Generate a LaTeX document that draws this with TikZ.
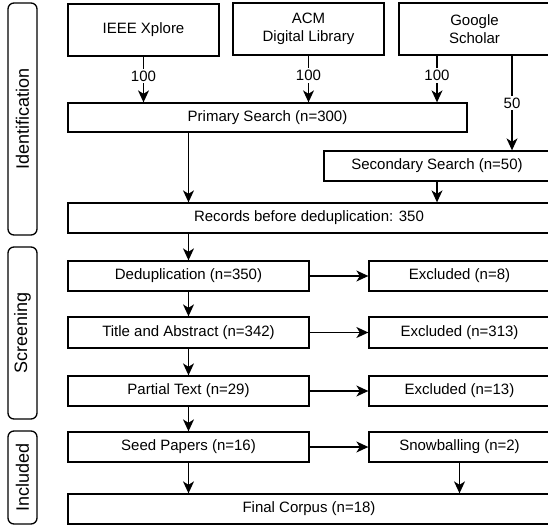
\documentclass[tikz,border=0pt]{standalone}
\usepackage{fontspec}
\setmainfont{Liberation Sans}
\usetikzlibrary{shapes,arrows.meta,positioning}

\begin{document}
\begin{tikzpicture}[x=1pt,y=-1pt,
	box/.style={draw,line width=1.3pt,inner sep=0pt,align=center,font=\fontsize{15}{18}\selectfont},
	phase/.style={draw,line width=1.3pt,rounded corners=6pt,rotate=90,inner sep=0pt,minimum height=29,font=\fontsize{18}{21}\selectfont},
	flow/.style={-{Stealth[length=12pt,width=11pt,inset=3.5pt]},line width=1.3pt},
	count/.style={fill=white,inner sep=2pt,font=\fontsize{15}{18}\selectfont}]
	\useasboundingbox (0,0) rectangle (548,527);
	\clip (0,0) rectangle (548,527);

	\node[phase,minimum width=232] (ident) at (22.5,119) {Identification};
	\node[phase,minimum width=172] (screen) at (22.5,333) {Screening};
	\node[phase,minimum width=93] (incl) at (22.5,477.5) {Included};

	\node[box,minimum width=151,minimum height=52] (ieee) at (143.5,30) {IEEE Xplore};
	\node[box,minimum width=151,minimum height=52] (acm) at (308.5,29) {ACM\\Digital Library};
	\node[box,minimum width=151,minimum height=52] (google) at (474.5,29) {Google\\Scholar};

	\node[box,minimum width=399,minimum height=29] (prim) at (267.5,117.5) {Primary Search (n=300)};
	\node[box,minimum width=226,minimum height=30] (sec) at (437,166) {Secondary Search (n=50)};
	\node[box,minimum width=482,minimum height=30] (rec) at (309,218) {Records before deduplication: 350};

	\node[box,minimum width=241,minimum height=30] (dedup) at (188.5,276) {Deduplication (n=350)};
	\node[box,minimum width=241,minimum height=31] (title) at (188.5,332.5) {Title and Abstract (n=342)};
	\node[box,minimum width=241,minimum height=30] (partial) at (188.5,391) {Partial Text (n=29)};
	\node[box,minimum width=241,minimum height=30] (seed) at (188.5,447) {Seed Papers (n=16)};

	\node[box,minimum width=181,minimum height=30] (exc1) at (459.5,276) {Excluded (n=8)};
	\node[box,minimum width=181,minimum height=31] (exc2) at (459.5,332.5) {Excluded (n=313)};
	\node[box,minimum width=181,minimum height=30] (exc3) at (459.5,391) {Excluded (n=13)};
	\node[box,minimum width=181,minimum height=30] (snow) at (459.5,447) {Snowballing (n=2)};

	\node[box,minimum width=482,minimum height=30] (final) at (309,509) {Final Corpus (n=18)};

	\path [flow] (ieee.south) edge node[count,pos=0.42] {100} (ieee.south |- prim.north);
	\path [flow] (acm.south) edge node[count,pos=0.42] {100} (acm.south |- prim.north);
	\path [flow] ([xshift=-37.5]google.south) edge node[count,pos=0.42] {100} ([xshift=-37.5]google.south |- prim.north);
	\path [flow] ([xshift=37.5]google.south) edge node[count] {50} ([xshift=37.5]google.south |- sec.north);

	\path [flow] (dedup.north |- prim.south) edge (dedup.north |- rec.north);
	\path [flow] (sec) edge (sec |- rec.north);
	\path [flow] (dedup |- rec.south) edge (dedup);

	\path [flow] (dedup) edge (title);
	\path [flow] (title) edge (partial);
	\path [flow] (partial) edge (seed);
	\path [flow] (seed) edge (seed |- final.north);

	\path [flow] (dedup) edge (exc1);
	\path [flow] (title) edge (exc2);
	\path [flow] (partial) edge (exc3);
	\path [flow] (seed) edge (snow);
	\path [flow] (snow) edge (snow |- final.north);
\end{tikzpicture}
\end{document}
